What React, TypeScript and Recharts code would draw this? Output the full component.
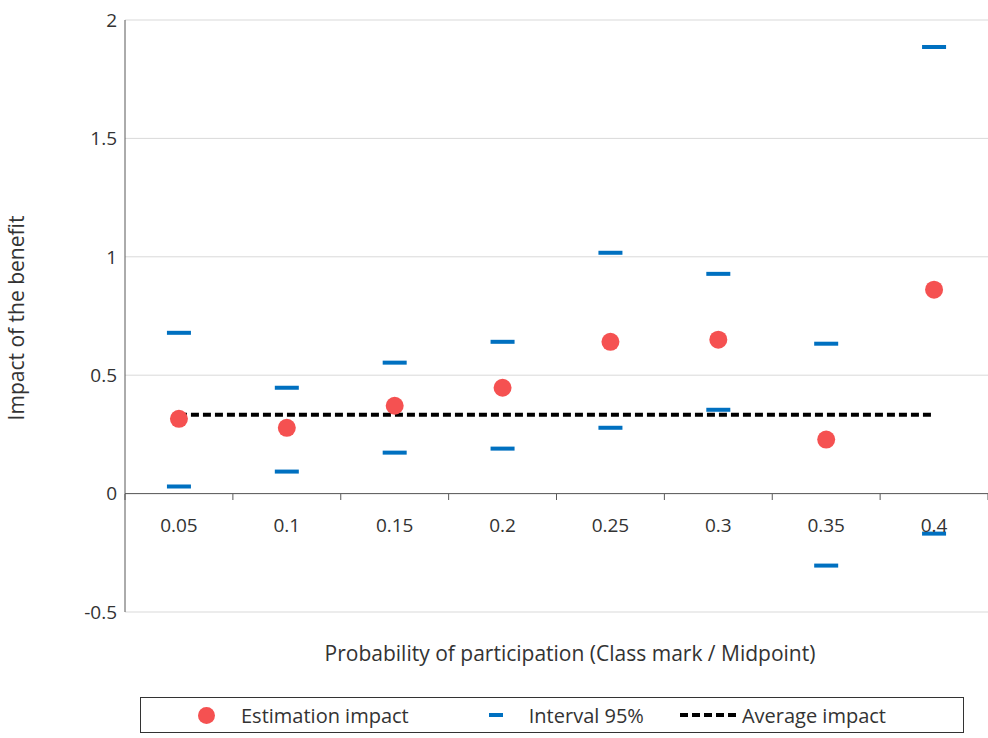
import { ComposedChart, XAxis, YAxis, CartesianGrid, Scatter, Line, ReferenceLine } from 'recharts'

const categories = ['0.05', '0.1', '0.15', '0.2', '0.25', '0.3', '0.35', '0.4']
const estimation = [0.316, 0.278, 0.371, 0.447, 0.641, 0.65, 0.228, 0.861]
const upper = [0.679, 0.447, 0.553, 0.641, 1.017, 0.928, 0.633, 1.886]
const lower = [0.03, 0.093, 0.173, 0.19, 0.278, 0.354, -0.304, -0.169]
const average = 0.333
const yTicks = [-0.5, 0, 0.5, 1, 1.5, 2]

const data = categories.map((c, i) => ({
  cat: c,
  est: estimation[i],
  upper: upper[i],
  lower: lower[i],
  avg: average,
}))

const font = '"Open Sans", "Liberation Sans", sans-serif'
const BLUE = '#0070c0'
const RED = '#f55151'
const BAND = 863 / 8

const Dash = (p: any) => <rect x={p.cx - 12} y={p.cy - 2} width={24} height={4} fill={BLUE} />
const Dot = (p: any) => <circle cx={p.cx} cy={p.cy} r={9} fill={RED} />

// x labels sit under the zero line, not at the bottom of the plot
const XTick = (p: any) => {
  const zeroY = 494
  return (
    <g>
      <line x1={p.x - BAND / 2} x2={p.x - BAND / 2} y1={zeroY} y2={zeroY + 6} stroke="#595959" />
      {p.index === 7 && <line x1={p.x + BAND / 2} x2={p.x + BAND / 2} y1={zeroY} y2={zeroY + 6} stroke="#595959" />}
      <text x={p.x} y={zeroY + 38} textAnchor="middle" fontSize={19} fill="#333" fontFamily={font}>
        {p.payload.value}
      </text>
    </g>
  )
}

export default function App() {
  return (
    <div style={{ position: 'relative', width: 988, height: 738, fontFamily: font, background: '#fff' }}>
      <style>{`body{margin:0}`}</style>
      <ComposedChart width={988} height={738} data={data} margin={{ top: 20, right: 0, bottom: 96, left: 65 }}>
        <CartesianGrid vertical={false} stroke="#d9d9d9" />
        <XAxis
          dataKey="cat"
          axisLine={false}
          tickLine={false}
          tick={<XTick />}
          interval={0}
          padding={{ left: BAND / 2, right: BAND / 2 }}
        />
        <YAxis
          domain={[-0.5, 2]}
          ticks={yTicks}
          width={60}
          tickLine={false}
          axisLine={{ stroke: '#595959' }}
          tick={{ fontSize: 19, fill: '#333', fontFamily: font }}
          tickFormatter={(v: number) => String(v)}
        />
        <ReferenceLine y={0} stroke="#595959" />
        <Scatter dataKey="upper" shape={<Dash />} isAnimationActive={false} />
        <Scatter dataKey="lower" shape={<Dash />} isAnimationActive={false} />
        <Line dataKey="avg" stroke="#000" strokeWidth={4} strokeDasharray="8 4" dot={false} isAnimationActive={false} />
        <Scatter dataKey="est" shape={<Dot />} isAnimationActive={false} />
        <text x={570} y={661} textAnchor="middle" fontSize={21} fill="#333" fontFamily={font}>
          Probability of participation (Class mark / Midpoint)
        </text>
        <text x={24} y={318} textAnchor="middle" fontSize={21} fill="#333" fontFamily={font} transform="rotate(-90 24 318)">
          Impact of the benefit
        </text>
      </ComposedChart>
      <div
        style={{
          position: 'absolute', left: 140, top: 697, width: 824, height: 36,
          border: '1px solid #333', display: 'flex', alignItems: 'center',
          fontSize: 20, color: '#333', boxSizing: 'border-box',
        }}
      >
        <span style={{ marginLeft: 57, width: 17, height: 17, borderRadius: '50%', background: RED, display: 'inline-block' }} />
        <span style={{ marginLeft: 26 }}>Estimation impact</span>
        <span style={{ marginLeft: 80, width: 14, height: 4, background: BLUE, display: 'inline-block' }} />
        <span style={{ marginLeft: 26 }}>Interval 95%</span>
        <span style={{ marginLeft: 36, width: 56, borderTop: '4px dashed #000', display: 'inline-block' }} />
        <span style={{ marginLeft: 6 }}>Average impact</span>
      </div>
    </div>
  )
}
